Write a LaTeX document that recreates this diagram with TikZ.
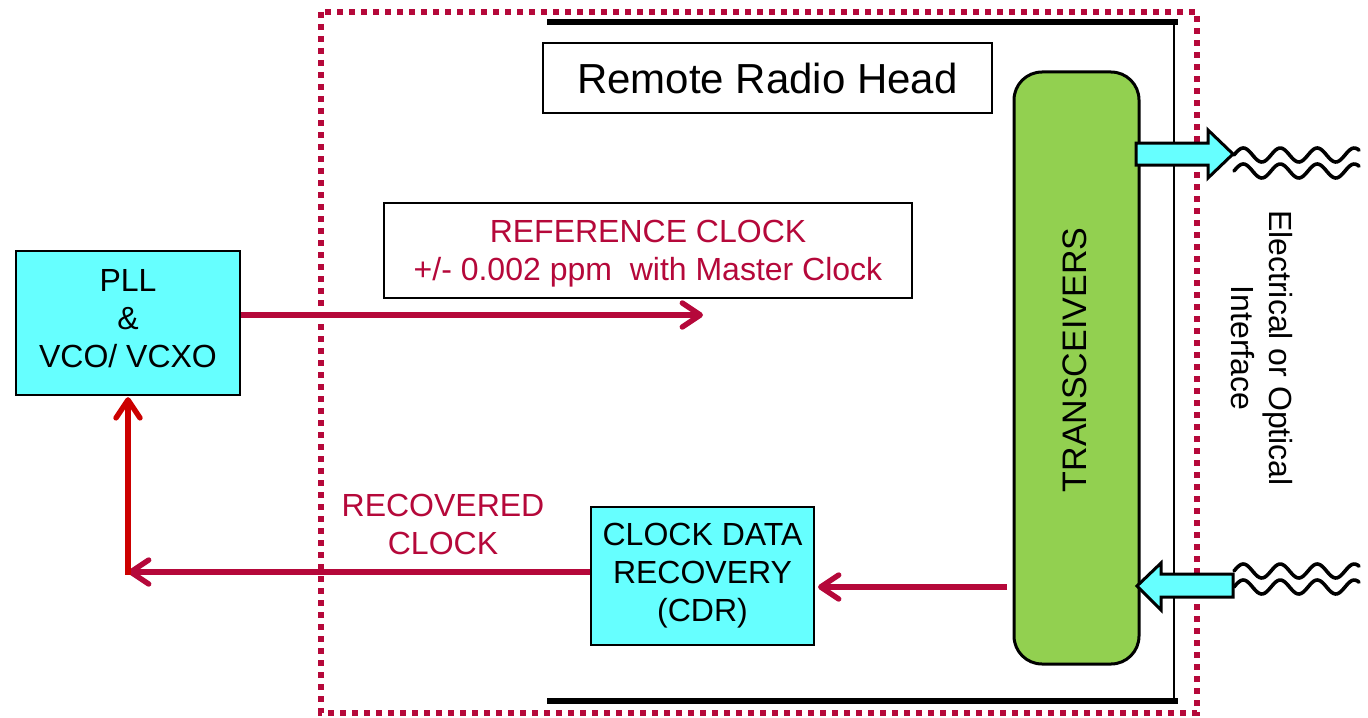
\documentclass[tikz,border=0pt]{standalone}
\usepackage{fontspec}
\setmainfont{Liberation Sans}
\usetikzlibrary{arrows.meta}
\definecolor{crim}{RGB}{181,8,58}
\definecolor{cyanbox}{RGB}{102,255,255}
\definecolor{trxgreen}{RGB}{146,208,80}
\definecolor{redv}{RGB}{204,0,0}
\begin{document}
\begin{tikzpicture}[x=0.5pt,y=-0.5pt,
  txt/.style={font=\fontsize{16}{19}\selectfont, align=center},
  cbox/.style={draw=black, line width=1pt, fill=cyanbox, txt, inner sep=0pt},
  tbox/.style={draw=black, line width=0.9pt, fill=white, inner sep=0pt},
  chev/.style={-{Straight Barb[length=9pt,width=12pt,round]}},
  arr/.style={draw=crim, line width=2.7pt, chev},
  blockarrow/.style={draw=black, line width=1.5pt, fill=cyanbox, line join=miter},
  wave/.style={draw=black, line width=1.8pt, line cap=round},
  border/.style={draw=crim, line width=2.8pt, dash pattern=on 3pt off 3pt}
]
\useasboundingbox (0,0) rectangle (1368,717);

% dotted border of the remote radio head
\draw[border] (321,12) rectangle (1197,713);

% black frame lines
\draw[line width=3pt] (547,22) -- (1178,22);
\draw[line width=1.3pt] (1174,22) -- (1174,701);
\draw[line width=3pt] (547,701) -- (1178,701);

% title box
\node[tbox, minimum width=224.5pt, minimum height=35pt, font=\fontsize{21}{25}\selectfont] (rrh) at (767.5,78) {Remote Radio Head};

% reference clock box
\node[tbox, minimum width=264pt, minimum height=47.5pt] (ref) at (648,250.5) {};
\node[txt, text=crim] (reftext) at (648,254) {REFERENCE CLOCK\\+/- 0.002 ppm\ \ with Master Clock};

% transceivers
\node[draw=black, line width=1.5pt, fill=trxgreen, rounded corners=14pt, minimum width=62.5pt, minimum height=296pt, inner sep=0pt] (trx) at (1076.5,368) {};
\node[rotate=90, font=\fontsize{17}{20}\selectfont] (trxlabel) at (1075,360) {TRANSCEIVERS};

% PLL and CDR
\node[cbox, minimum width=112pt, minimum height=72pt] (pll) at (128,323) {};
\node[txt] (plltext) at (128,319) {PLL\\\&\\VCO/ VCXO};
\node[cbox, minimum width=111.5pt, minimum height=69pt] (cdr) at (702.5,576) {CLOCK DATA\\RECOVERY\\(CDR)};

% labels
\node[txt, text=crim] (reclabel) at (443,524) {RECOVERED\\CLOCK};
\node[txt, rotate=-90] (iflabel) at (1262,348) {Electrical or Optical\\Interface};

% connectors
\coordinate (refend) at (703,315);
\draw[arr] (pll.east |- refend) -- (refend);
\coordinate (trxout) at (1007,587);
\draw[arr] (trxout) -- ([xshift=1.5pt]trxout -| cdr.east);
\coordinate (corner) at (128,572);
\draw[arr] (cdr.west |- corner) -- (corner);
\draw[draw=redv, line width=2.7pt, chev] ([yshift=-1.3pt]corner) -- ([yshift=-0.6pt]pll.south);

% block arrows at the interface
\draw[blockarrow] (1136,143) -- (1208,143) -- (1208,130) -- (1233,154) -- (1208,178) -- (1208,165) -- (1136,165) -- cycle;
\draw[blockarrow] (1233,574) -- (1161,574) -- (1161,563) -- (1137,586) -- (1161,610) -- (1161,597) -- (1233,597) -- cycle;

% wavy lines
\draw[wave] plot[smooth, domain=0:125, samples=70] ({1234+\x},{155-7*sin(\x*9.73)});
\draw[wave] plot[smooth, domain=0:125, samples=70] ({1234+\x},{171-7*sin(\x*9.73)});
\draw[wave] plot[smooth, domain=0:125, samples=70] ({1234+\x},{571-7*sin(\x*9.73)});
\draw[wave] plot[smooth, domain=0:125, samples=70] ({1234+\x},{587-7*sin(\x*9.73)});
\end{tikzpicture}
\end{document}
